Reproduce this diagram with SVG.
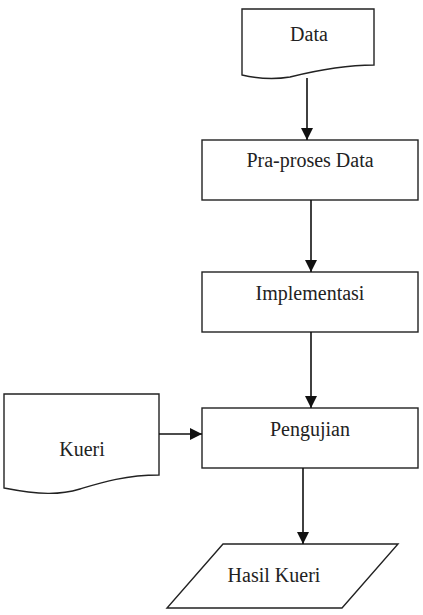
<svg xmlns="http://www.w3.org/2000/svg" width="423" height="615" viewBox="0 0 423 615">
<style>
.s{fill:#fff;stroke:#222;stroke-width:1.4}
.t{font-family:"Liberation Serif","Times New Roman",serif;font-size:20px;fill:#222;text-anchor:middle}
.c{stroke:#111;stroke-width:1.6;fill:none}
</style>
<defs>
<marker id="ah" markerWidth="12" markerHeight="12" refX="12" refY="6" orient="auto" markerUnits="userSpaceOnUse" viewBox="0 0 12 12">
<path d="M0,0 L12,6 L0,12 Z" fill="#111"/>
</marker>
</defs>
<rect width="423" height="615" fill="#fff"/>
<g id="data">
<path class="s" d="M242,9 L374,9 L374,65 C340,65 310,72 290,77 C272,80 255,78 242,75 Z"/>
<text class="t" x="309" y="41">Data</text>
</g>
<g id="praproses">
<rect class="s" x="202" y="140" width="216" height="60"/>
<text class="t" x="310" y="167">Pra-proses Data</text>
</g>
<g id="implementasi">
<rect class="s" x="202" y="272" width="216" height="60"/>
<text class="t" x="310" y="300">Implementasi</text>
</g>
<g id="pengujian">
<rect class="s" x="202" y="408" width="216" height="60"/>
<text class="t" x="310" y="436">Pengujian</text>
</g>
<g id="kueri">
<path class="s" d="M4,394 L159,394 L159,475 C125,475 100,483 80,489 C60,495 40,495 4,488 Z"/>
<text class="t" x="82" y="456">Kueri</text>
</g>
<g id="hasil">
<path class="s" d="M223,544 L398,544 L342,608 L167,608 Z"/>
<text class="t" x="274" y="582">Hasil Kueri</text>
</g>
<g id="connectors">
<line class="c" x1="307" y1="78" x2="307" y2="140" marker-end="url(#ah)"/>
<line class="c" x1="311" y1="200" x2="311" y2="272" marker-end="url(#ah)"/>
<line class="c" x1="311" y1="332" x2="311" y2="408" marker-end="url(#ah)"/>
<line class="c" x1="159" y1="434" x2="202" y2="434" marker-end="url(#ah)"/>
<line class="c" x1="303" y1="468" x2="303" y2="544" marker-end="url(#ah)"/>
</g>
</svg>
